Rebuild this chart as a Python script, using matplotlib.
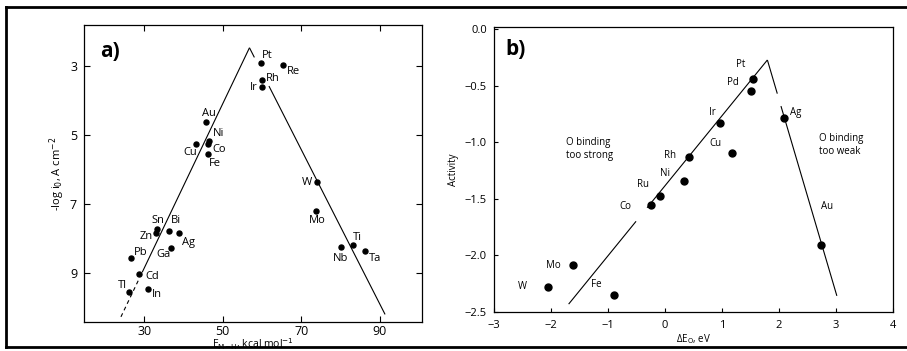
import numpy as np
import matplotlib
matplotlib.use("Agg")
import matplotlib.pyplot as plt
from matplotlib.lines import Line2D

plt.rcParams['font.family'] = ['Open Sans', 'DejaVu Sans']
plt.rcParams['axes.linewidth'] = 0.9

# ---------------- data: panel a (HER exchange current vs M-H bond energy)
metals_a = ["Pt", "Re", "Rh", "Ir", "Au", "Ni", "Co", "Cu", "Fe", "W", "Mo",
            "Sn", "Zn", "Bi", "Ag", "Ga", "Pb", "Cd", "Tl", "In", "Nb", "Ti", "Ta"]
e_mh = [59.7, 65.3, 59.9, 60.0, 45.7, 46.5, 46.3, 43.2, 46.2, 73.9, 73.8,
        33.2, 33.1, 36.3, 38.9, 36.8, 26.7, 28.7, 26.2, 30.9, 80.0, 83.1, 86.2]
neg_log_i0 = [2.92, 2.97, 3.41, 3.60, 4.61, 5.17, 5.26, 5.27, 5.56, 6.36, 7.21,
              7.73, 7.83, 7.77, 7.85, 8.28, 8.56, 9.04, 9.54, 9.47, 8.24, 8.19, 8.35]

# volcano branches (endpoints)
volc_a_left_x = [24.1, 56.8]
volc_a_left_y = [10.27, 2.47]
volc_a_right_x = [56.8, 91.3]
volc_a_right_y = [2.47, 10.2]

xticks_a = [30, 50, 70, 90]
yticks_a = [3, 5, 7, 9]

# ---------------- data: panel b (ORR activity vs oxygen binding energy)
metals_b = ["Pt", "Pd", "Ir", "Ag", "Cu", "Rh", "Ni", "Ru", "Co", "Mo", "W", "Fe", "Au"]
delta_e_o = [1.55, 1.52, 0.96, 2.10, 1.18, 0.43, 0.33, -0.08, -0.24, -1.61, -2.05, -0.90, 2.75]
activity = [-0.436, -0.547, -0.833, -0.783, -1.094, -1.127, -1.339, -1.474,
            -1.553, -2.086, -2.28, -2.35, -1.906]

volc_b_left_x = [-1.69, 1.80]
volc_b_left_y = [-2.433, -0.272]
volc_b_right_x = [1.80, 3.02]
volc_b_right_y = [-0.272, -2.36]

xticks_b = [-3, -2, -1, 0, 1, 2, 3, 4]
yticks_b = [0.0, -0.5, -1.0, -1.5, -2.0, -2.5]

# label offsets (points) relative to each marker
offs_a = {"Pt": (4.3, 5.3), "Re": (7.7, -4.8), "Rh": (8.2, 1.2), "Ir": (-6.2, -0.5),
          "Au": (1.9, 5.5), "Ni": (7.2, 5.0), "Co": (7.9, -3.8), "Cu": (-4.1, -6.0),
          "Fe": (4.8, -6.5), "W": (-7.2, -0.5), "Mo": (0.7, -6.7), "Sn": (1.2, 6.0),
          "Zn": (-7.0, -2.6), "Bi": (5.0, 7.2), "Ag": (6.5, -6.5), "Ga": (-5.3, -4.8),
          "Pb": (7.2, 3.8), "Cd": (9.6, -1.2), "Tl": (-4.6, 4.1), "In": (6.5, -4.1),
          "Nb": (0.0, -8.4), "Ti": (3.4, 5.3), "Ta": (7.2, -5.5)}
offs_b = {"Pt": (-8.9, 10.4), "Pd": (-13.4, 6.2), "Ir": (-5.0, 7.5), "Ag": (8.4, 3.4),
          "Cu": (-12.2, 6.9), "Rh": (-13.7, 0.5), "Ni": (-13.7, 4.8), "Ru": (-12.7, 7.9),
          "Co": (-18.9, -1.0), "Mo": (-14.4, -0.2), "W": (-18.3, 0.0), "Fe": (-12.2, 7.5),
          "Au": (4.1, 27.4)}


def draw_branch(ax, xs, ys, pieces, lw=0.8):
    """Draw a straight line between two endpoints, only over the given
    y-intervals (pieces = [(y_start, y_end, linestyle), ...])."""
    (x0, x1), (y0, y1) = xs, ys
    for ya, yb, ls in pieces:
        ta = (ya - y0) / (y1 - y0)
        tb = (yb - y0) / (y1 - y0)
        ax.plot([x0 + ta * (x1 - x0), x0 + tb * (x1 - x0)], [ya, yb],
                color="black", lw=lw, ls=ls, solid_capstyle="butt")


fig = plt.figure(figsize=(9.07, 3.51), dpi=100)

# ---------------- panel a
ax1 = fig.add_axes([0.0926, 0.0826, 0.3727, 0.8462])
draw_branch(ax1, volc_a_left_x, volc_a_left_y,
            [(10.27, 9.15, (0, (3.5, 3))), (8.98, 2.47, "-")])
draw_branch(ax1, volc_a_right_x, volc_a_right_y,
            [(2.47, 2.75, "-"), (3.58, 10.2, "-")])
ax1.plot(e_mh, neg_log_i0, "o", color="black", ms=3.6, mec="black")
for name, x, y in zip(metals_a, e_mh, neg_log_i0):
    ax1.annotate(name, (x, y), xytext=offs_a[name], textcoords="offset points",
                 ha="center", va="center", fontsize=8)
ax1.set_xlim(14.7, 100.7)
ax1.set_ylim(10.42, 1.81)
ax1.set_xticks(xticks_a)
ax1.set_yticks(yticks_a)
ax1.tick_params(axis="both", direction="in", length=4, width=0.8, labelsize=9,
                top=True, right=True)
ax1.tick_params(axis="x", pad=2)
ax1.tick_params(axis="y", pad=5)
ax1.set_xlabel("E$_{\\rm M\\!-\\!H}$, kcal mol$^{-1}$", fontsize=7.5, labelpad=-1)
ax1.set_ylabel("-log i$_0$, A cm$^{-2}$", fontsize=8, labelpad=2)
ax1.text(0.077, 0.91, "a)", transform=ax1.transAxes, fontsize=15,
         fontweight="bold", ha="center", va="center")

# ---------------- panel b
ax2 = fig.add_axes([0.5447, 0.112, 0.4395, 0.8111])
draw_branch(ax2, volc_b_left_x, volc_b_left_y,
            [(-2.433, -1.70, "-"), (-1.58, -0.272, "-")])
draw_branch(ax2, volc_b_right_x, volc_b_right_y,
            [(-0.272, -0.57, "-"), (-0.68, -2.36, "-")])
ax2.plot(delta_e_o, activity, "o", color="black", ms=5, mec="black")
for name, x, y in zip(metals_b, delta_e_o, activity):
    ax2.annotate(name, (x, y), xytext=offs_b[name], textcoords="offset points",
                 ha="center", va="center", fontsize=7)
ax2.text(-1.73, -1.06, "O binding\ntoo strong", fontsize=7, ha="left",
         va="center", linespacing=1.2)
ax2.text(2.70, -1.024, "O binding\ntoo weak", fontsize=7, ha="left",
         va="center", linespacing=1.2)
ax2.set_xlim(-3, 4)
ax2.set_ylim(-2.5, 0.02)
ax2.set_xticks(xticks_b)
ax2.set_yticks(yticks_b)
ax2.set_yticklabels([f"{v:.1f}".replace("-", "\u2212") for v in yticks_b])
ax2.tick_params(direction="in", length=3, width=0.8, labelsize=8)
ax2.tick_params(axis="x", pad=6)
ax2.tick_params(axis="y", pad=5)
ax2.set_xlabel("\u0394E$_{\\rm O}$, eV", fontsize=7, labelpad=1)
ax2.set_ylabel("Activity", fontsize=7, labelpad=4)
ax2.text(0.053, 0.92, "b)", transform=ax2.transAxes, fontsize=15,
         fontweight="bold", ha="center", va="center")

# ---------------- outer frame
W, H = 907, 351
frame_kw = dict(color="black", lw=2.0, transform=fig.transFigure)
fig.add_artist(Line2D([6 / W, 1.0], [1 - 7 / H, 1 - 7 / H], **frame_kw))
fig.add_artist(Line2D([6 / W, 6 / W], [1 - 7 / H, 1 - 347 / H], **frame_kw))
fig.add_artist(Line2D([6 / W, 1.0], [1 - 347 / H, 1 - 347 / H], **frame_kw))

fig.savefig("out.png", dpi=100)
